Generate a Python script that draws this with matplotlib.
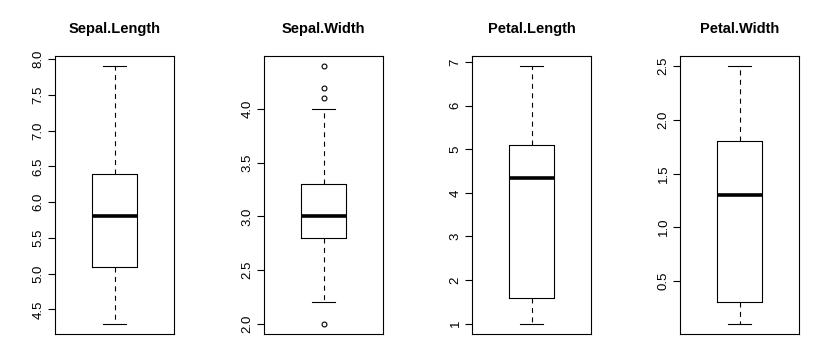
import matplotlib
matplotlib.use("Agg")
import matplotlib.pyplot as plt
import numpy as np

plt.rcParams['font.family'] = ['Liberation Sans', 'DejaVu Sans']

variables = ["Sepal.Length", "Sepal.Width", "Petal.Length", "Petal.Width"]
whisker_low = [4.3, 2.2, 1.0, 0.1]
q1 = [5.1, 2.8, 1.6, 0.3]
median = [5.8, 3.0, 4.35, 1.3]
q3 = [6.4, 3.3, 5.1, 1.8]
whisker_high = [7.9, 4.0, 6.9, 2.5]
outliers = [[], [4.4, 4.1, 4.2, 2.0], [], []]
yticks = [
    [4.5, 5.0, 5.5, 6.0, 6.5, 7.0, 7.5, 8.0],
    [2.0, 2.5, 3.0, 3.5, 4.0],
    [1, 2, 3, 4, 5, 6, 7],
    [0.5, 1.0, 1.5, 2.0, 2.5],
]
tick_fmt = ["{:.1f}", "{:.1f}", "{:d}", "{:.1f}"]

W, H = 825, 361
fig = plt.figure(figsize=(W / 100, H / 100), dpi=100)
lefts_px = [55, 264, 472, 680]
ax_w_px, top_px, bot_px = 119, 56, 334

lw = 0.8
for i, name in enumerate(variables):
    ax = fig.add_axes([lefts_px[i] / W, (H - bot_px) / H, ax_w_px / W, (bot_px - top_px) / H])
    stats = [dict(med=median[i], q1=q1[i], q3=q3[i], whislo=whisker_low[i],
                  whishi=whisker_high[i], fliers=outliers[i], label="")]
    ax.bxp(stats, positions=[1], widths=0.4, showfliers=True,
           boxprops=dict(color="black", linewidth=lw),
           medianprops=dict(color="black", linewidth=2.6, solid_capstyle="butt"),
           whiskerprops=dict(color="black", linewidth=lw, linestyle=(0, (4.5, 4))),
           capprops=dict(color="black", linewidth=lw),
           capwidths=0.2,
           flierprops=dict(marker="o", markersize=3.5, markerfacecolor="none",
                           markeredgecolor="black", markeredgewidth=0.8))
    allv = [whisker_low[i], whisker_high[i]] + outliers[i]
    lo, hi = min(allv), max(allv)
    pad = (hi - lo) * 0.04
    ax.set_ylim(lo - pad, hi + pad)
    ax.set_xlim(0.46, 1.54)
    ax.set_xticks([])
    ax.set_yticks(yticks[i])
    ax.set_yticklabels([tick_fmt[i].format(v) for v in yticks[i]], rotation=90,
                       va="center", fontsize=9.5)
    ax.tick_params(axis="y", length=5, width=0.8, pad=2.5, colors="black")
    for s in ax.spines.values():
        s.set_linewidth(0.8)
        s.set_color("black")
    ax.set_title(name, fontsize=10.5, fontweight="bold", pad=16.5)

fig.savefig("out.png", dpi=100)
